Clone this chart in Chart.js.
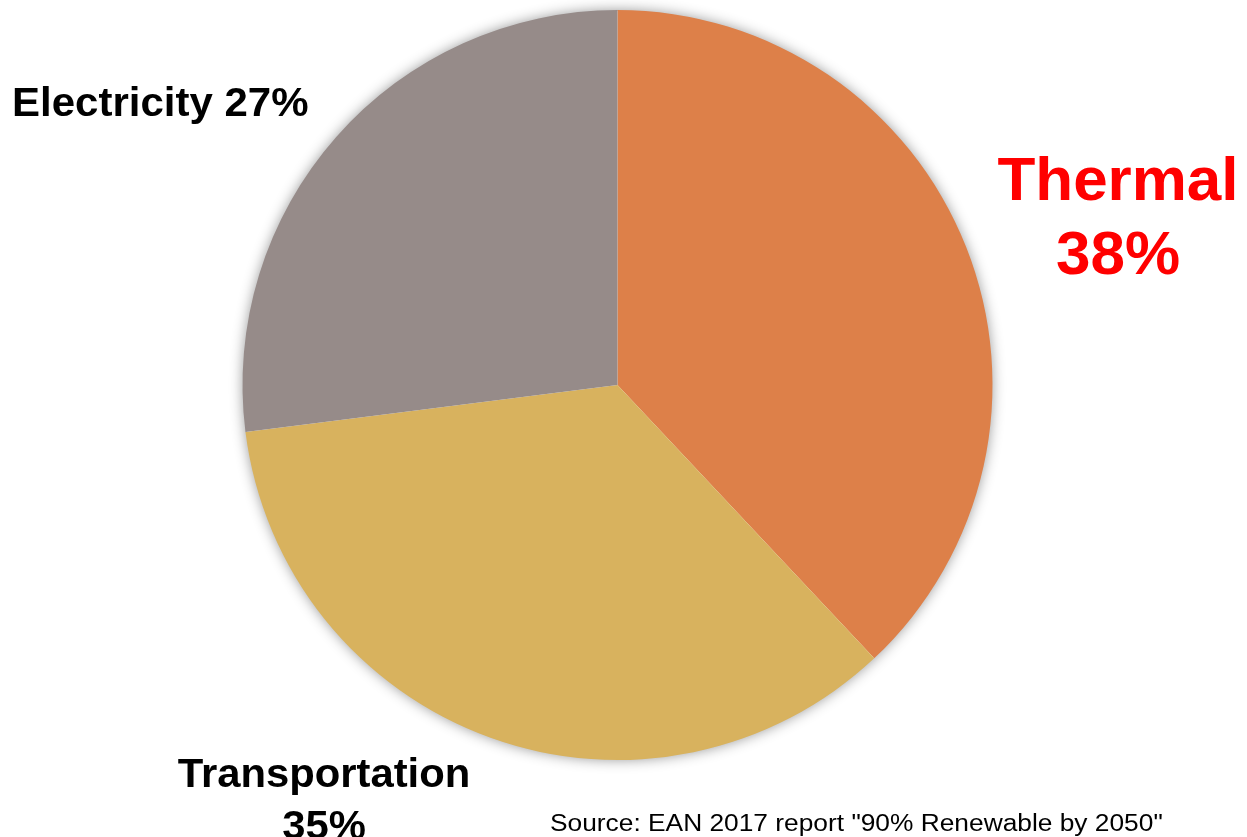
<!DOCTYPE html>
<html lang="en">
<head>
  <meta charset="UTF-8" />
  <title>Energy use by sector</title>
  <script src="https://cdn.jsdelivr.net/npm/chart.js"></script>
  <style>
    html, body { margin: 0; padding: 0; background: #fff; }
    #wrap { position: relative; width: 1247px; height: 837px; overflow: hidden; }
    #pie { position: absolute; left: 0; top: 0; }
    .lbl { position: absolute; font-family: "Liberation Sans", Arial, sans-serif; font-weight: bold; white-space: nowrap; line-height: 1; }
    #src { position: absolute; left: 550px; top: 812px; font-family: "Liberation Sans", Arial, sans-serif; font-size: 23.5px; color: #000; white-space: nowrap; line-height: 1; transform: scaleX(1.12); transform-origin: left top; }
  </style>
</head>
<body>
  <div id="wrap">
    <canvas id="pie" width="1247" height="837"></canvas>
    <div id="lblThermal" class="lbl" style="left:985px; top:142px; width:266px; text-align:center; color:#ff0000; font-size:62px; line-height:74px;"></div>
    <div id="lblTransport" class="lbl" style="left:160px; top:747px; width:328px; text-align:center; color:#000; font-size:40px; line-height:52px; transform:scaleX(1.045); transform-origin:center top;"></div>
    <div id="lblElectricity" class="lbl" style="left:12px; top:82px; color:#000; font-size:40px; transform:scaleX(1.05); transform-origin:left top;"></div>
    <div id="src"></div>
  </div>

  <script>
    // sectors, share of energy use (%)
    const sectors = ['Thermal', 'Transportation', 'Electricity'];
    const shares = [38, 35, 27];
    const sliceColors = ['#dd8049', '#d8b25e', '#968b89'];
    const sourceNote = 'Source: EAN 2017 report "90% Renewable by 2050"';

    // soft shadow under the whole pie, drawn once so slices don't shade each other
    const pieShadow = {
      id: 'pieShadow',
      beforeDatasetsDraw(chart) {
        const arc = chart.getDatasetMeta(0).data[0];
        if (!arc) return;
        const ctx = chart.ctx;
        ctx.save();
        ctx.shadowColor = 'rgba(0,0,0,0.45)';
        ctx.shadowBlur = 14;
        ctx.fillStyle = '#ffffff';
        ctx.beginPath();
        ctx.arc(arc.x, arc.y, arc.outerRadius - 1, 0, Math.PI * 2);
        ctx.fill();
        ctx.restore();
      }
    };

    new Chart(document.getElementById('pie'), {
      type: 'pie',
      data: {
        labels: sectors,
        datasets: [{
          data: shares,
          backgroundColor: sliceColors,
          borderWidth: 0
        }]
      },
      options: {
        responsive: false,
        animation: false,
        layout: { padding: { left: 242, right: 254, top: 10, bottom: 77 } },
        plugins: {
          legend: { display: false },
          tooltip: { enabled: false }
        }
      },
      plugins: [pieShadow]
    });

    document.getElementById('lblThermal').innerHTML = sectors[0] + '<br>' + shares[0] + '%';
    document.getElementById('lblTransport').innerHTML = sectors[1] + '<br>' + shares[1] + '%';
    document.getElementById('lblElectricity').textContent = sectors[2] + ' ' + shares[2] + '%';
    document.getElementById('src').textContent = sourceNote;
  </script>
</body>
</html>
